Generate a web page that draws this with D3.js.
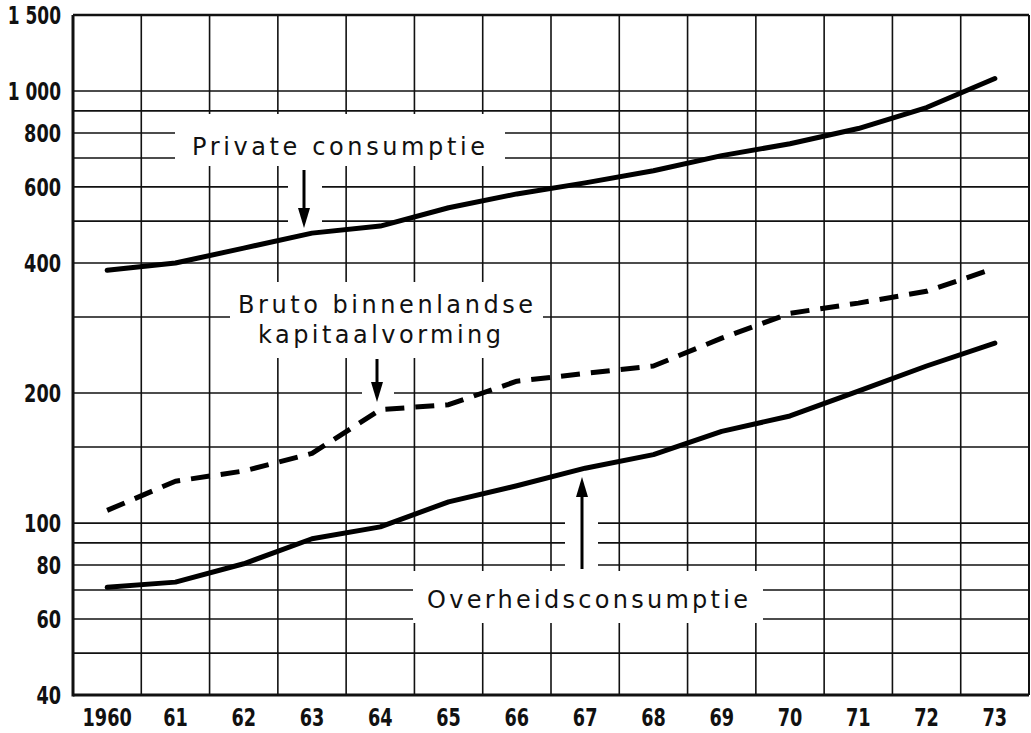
<!DOCTYPE html>
<html>
<head>
<meta charset="utf-8">
<script src="https://cdn.jsdelivr.net/npm/d3@7"></script>
<style>
  body { margin: 0; background: #fff; }
  svg { display: block; }
  .tick-label { font-family: "DejaVu Sans Condensed", "DejaVu Sans", sans-serif; font-weight: bold; font-size: 25px; fill: #111; }
  .note { font-family: "DejaVu Sans", sans-serif; font-size: 24px; fill: #111; }
</style>
</head>
<body>
<svg width="1031" height="733"></svg>
<script>
// values (log scale)
var years = [1960, 1961, 1962, 1963, 1964, 1965, 1966, 1967, 1968, 1969, 1970, 1971, 1972, 1973];
var yearLabels = ["1960", "61", "62", "63", "64", "65", "66", "67", "68", "69", "70", "71", "72", "73"];
var privateConsumptie = [385, 400, 433, 469, 487, 537, 578, 613, 654, 709, 755, 819, 916, 1069];
var kapitaalvorming = [107, 125, 132, 145, 183, 188, 213, 222, 231, 268, 306, 323, 344, 389];
var overheidsconsumptie = [71, 73, 80.5, 92, 98, 112, 122, 134, 144, 163, 177, 202, 231, 261];
var yTicks = [40, 60, 80, 100, 200, 400, 600, 800, 1000, 1500];
var yTickLabels = ["40", "60", "80", "100", "200", "400", "600", "800", "1 000", "1 500"];
var gridValues = [50, 60, 70, 80, 90, 100, 150, 200, 300, 400, 500, 600, 700, 800, 900, 1000];

var svg = d3.select("svg"),
    width = +svg.attr("width"),
    height = +svg.attr("height");

var plotLeft = 73, plotRight = 1029, plotTop = 15, plotBottom = 695;

var x = d3.scaleBand().domain(years).range([plotLeft, plotRight]);
var y = d3.scaleLog().domain([40, 1500]).range([plotBottom, plotTop]);

function xc(yr) { return x(yr) + x.bandwidth() / 2; }

// narrow stencil-like digits: squeeze each label to a width per character
function labelWidth(s) {
    var w = 0;
    for (var i = 0; i < s.length; i++) w += s[i] === " " ? 4 : 12.3;
    return w;
}

// grid
var grid = svg.append("g").attr("stroke", "#111").attr("stroke-width", 1.6);
grid.selectAll("line.h")
    .data(gridValues)
    .enter().append("line")
    .attr("class", "h")
    .attr("x1", plotLeft).attr("x2", plotRight)
    .attr("y1", function (d) { return y(d); })
    .attr("y2", function (d) { return y(d); });
grid.selectAll("line.v")
    .data(years.slice(1))
    .enter().append("line")
    .attr("class", "v")
    .attr("x1", function (d) { return x(d); })
    .attr("x2", function (d) { return x(d); })
    .attr("y1", plotTop).attr("y2", plotBottom);

// frame
svg.append("line").attr("x1", plotLeft).attr("x2", plotRight).attr("y1", plotTop).attr("y2", plotTop)
    .attr("stroke", "#111").attr("stroke-width", 2.5);
svg.append("line").attr("x1", plotRight).attr("x2", plotRight).attr("y1", plotTop).attr("y2", plotBottom)
    .attr("stroke", "#111").attr("stroke-width", 2);
svg.append("line").attr("x1", plotLeft).attr("x2", plotLeft).attr("y1", plotTop).attr("y2", plotBottom + 1.5)
    .attr("stroke", "#111").attr("stroke-width", 3);
svg.append("line").attr("x1", plotLeft).attr("x2", plotRight).attr("y1", plotBottom).attr("y2", plotBottom)
    .attr("stroke", "#111").attr("stroke-width", 3);

// axis labels
svg.append("g").selectAll("text")
    .data(yTicks)
    .enter().append("text")
    .attr("class", "tick-label")
    .attr("x", function (d, i) { return plotLeft - 12 - labelWidth(yTickLabels[i]); })
    .attr("y", function (d) { return y(d); })
    .attr("dy", "0.36em")
    .attr("textLength", function (d, i) { return labelWidth(yTickLabels[i]); })
    .attr("lengthAdjust", "spacingAndGlyphs")
    .text(function (d, i) { return yTickLabels[i]; });

svg.append("g").selectAll("text")
    .data(years)
    .enter().append("text")
    .attr("class", "tick-label")
    .attr("x", function (d, i) { return xc(d) - labelWidth(yearLabels[i]) / 2; })
    .attr("y", plotBottom + 31)
    .attr("textLength", function (d, i) { return labelWidth(yearLabels[i]); })
    .attr("lengthAdjust", "spacingAndGlyphs")
    .text(function (d, i) { return yearLabels[i]; });

// white patches where the labels sit on the grid
var patches = [
    [175, 114, 330, 52],
    [288, 166, 34, 66],
    [230, 282, 313, 76],
    [362, 356, 32, 48],
    [413, 571, 350, 52],
    [565, 478, 33, 94]
];
svg.append("g").selectAll("rect")
    .data(patches)
    .enter().append("rect")
    .attr("x", function (d) { return d[0]; })
    .attr("y", function (d) { return d[1]; })
    .attr("width", function (d) { return d[2]; })
    .attr("height", function (d) { return d[3]; })
    .attr("fill", "#fff");

// series
var line = d3.line()
    .x(function (d, i) { return xc(years[i]); })
    .y(function (d) { return y(d); });

svg.append("path").datum(privateConsumptie)
    .attr("d", line).attr("fill", "none").attr("stroke", "#000")
    .attr("stroke-width", 5).attr("stroke-linecap", "round").attr("stroke-linejoin", "round");
svg.append("path").datum(kapitaalvorming)
    .attr("d", line).attr("fill", "none").attr("stroke", "#000")
    .attr("stroke-width", 5).attr("stroke-dasharray", "19 11").attr("stroke-linejoin", "round");
svg.append("path").datum(overheidsconsumptie)
    .attr("d", line).attr("fill", "none").attr("stroke", "#000")
    .attr("stroke-width", 5).attr("stroke-linecap", "round").attr("stroke-linejoin", "round");

// notes and arrows
function note(txt, x0, yb, len) {
    svg.append("text").attr("class", "note")
        .attr("x", x0).attr("y", yb)
        .attr("textLength", len).attr("lengthAdjust", "spacing")
        .text(txt);
}
note("Private consumptie", 192, 155, 293);
note("Bruto binnenlandse", 238, 313, 295);
note("kapitaalvorming", 258, 343, 243);
note("Overheidsconsumptie", 427, 608, 321);

function arrow(ax, y0, y1) {
    var dir = y1 > y0 ? 1 : -1;
    svg.append("line").attr("x1", ax).attr("x2", ax).attr("y1", y0).attr("y2", y1 - dir * 14)
        .attr("stroke", "#000").attr("stroke-width", 3);
    svg.append("path")
        .attr("d", "M" + (ax - 6) + "," + (y1 - dir * 20) + "L" + ax + "," + y1 + "L" + (ax + 6) + "," + (y1 - dir * 20) + "Z")
        .attr("fill", "#000");
}
arrow(304, 170, 228);
arrow(377, 359, 402);
arrow(582, 569, 477);
</script>
</body>
</html>
